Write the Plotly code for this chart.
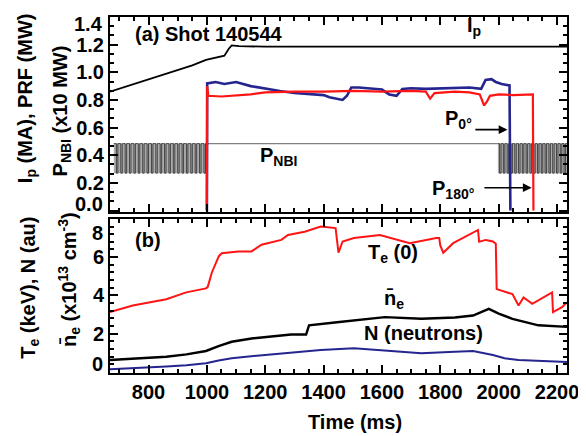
import plotly.graph_objects as go

# ---------------- data ----------------
# Panel (a)
T_IP = [668, 720, 776, 840, 905, 950, 997, 1020, 1040, 1060, 1075, 1085, 1110, 1200, 1400, 1600, 1800, 2000, 2234]
IP = [0.86, 0.895, 0.935, 0.975, 1.02, 1.05, 1.09, 1.10, 1.11, 1.12, 1.17, 1.195, 1.19, 1.185, 1.185, 1.185, 1.185, 1.185, 1.185]

T_P0 = [668, 999, 1000, 1001, 1030, 1060, 1100, 1150, 1200, 1250, 1300, 1350, 1400, 1420, 1465, 1480, 1495, 1520, 1560, 1600,
        1625, 1650, 1670, 1700, 1750, 1800, 1850, 1900, 1940, 1955, 1975, 1990, 2010, 2037, 2040, 2234]
P0 = [None, 0.0, 0.0, 0.92, 0.93, 0.915, 0.93, 0.90, 0.88, 0.865, 0.85, 0.845, 0.835, 0.82, 0.80, 0.83, 0.89, 0.89, 0.88, 0.875,
      0.84, 0.83, 0.88, 0.885, 0.88, 0.885, 0.89, 0.89, 0.88, 0.945, 0.95, 0.93, 0.915, 0.905, 0.0, None]

T_P180 = [668, 999, 1000, 1001, 1005, 1050, 1100, 1150, 1200, 1250, 1300, 1400, 1500, 1600, 1700, 1750, 1765, 1780, 1850,
          1900, 1935, 1950, 1960, 1970, 2000, 2050, 2100, 2117, 2119, 2234]
P180 = [None, 0.0, 0.0, 0.90, 0.83, 0.825, 0.83, 0.84, 0.855, 0.86, 0.86, 0.86, 0.865, 0.86, 0.865, 0.86, 0.81, 0.85, 0.86,
        0.855, 0.84, 0.76, 0.79, 0.83, 0.84, 0.835, 0.84, 0.84, 0.0, None]

# NBI modulation: times where the beam switches off (low) and back on (high)
NBI_OFF_L = [690, 705, 720, 735, 750, 765, 780, 795, 810, 825, 840, 855, 870, 885, 900, 915, 930, 945, 960, 975, 990]
NBI_OFF_R = [2003, 2016, 2029, 2042, 2055, 2068, 2081, 2094, 2107, 2120, 2133, 2146, 2159, 2172, 2185, 2198, 2211, 2224]
NBI_OFF_LEN = 5
NBI_HIGH = 0.484
NBI_LOW = 0.27
NBI_MOD_L = [681, 1000]
NBI_CW = [1000, 1997]
NBI_MOD_R = [1997, 2234]

# Panel (b)
T_TE = [668, 746, 861, 929, 997, 1003, 1017, 1041, 1051, 1108, 1153, 1187, 1255, 1278, 1335, 1390, 1441, 1446, 1451, 1465,
        1504, 1593, 1695, 1786, 1796, 1800, 1810, 1844, 1912, 1929, 1933, 1956, 1980, 1990, 1993, 2047, 2068, 2085, 2115,
        2183, 2186, 2217, 2234]
TE = [3.13, 3.47, 3.8, 4.16, 4.37, 4.45, 5.2, 6.05, 6.2, 6.3, 6.3, 6.65, 6.9, 7.16, 7.33, 7.6, 7.52, 6.8, 6.23, 6.82,
      7.0, 7.16, 6.73, 7.0, 7.0, 6.6, 6.23, 6.73, 7.25, 7.42, 6.8, 6.9, 6.82, 6.7, 4.33, 4.07, 3.47, 3.9, 3.56,
      4.16, 3.13, 3.39, 3.64]

T_NE = [668, 760, 861, 930, 997, 1040, 1085, 1153, 1230, 1289, 1340, 1346, 1350, 1446, 1530, 1610, 1735, 1850, 1912, 1966,
        2000, 2047, 2136, 2234]
NE = [0.63, 0.7, 0.8, 0.92, 1.1, 1.35, 1.58, 1.75, 1.85, 1.96, 1.96, 2.2, 2.44, 2.6, 2.75, 2.87, 2.78, 2.85, 2.95, 3.3,
      3.05, 2.78, 2.44, 2.36]

T_N = [668, 760, 861, 930, 997, 1040, 1085, 1190, 1289, 1390, 1504, 1617, 1735, 1830, 1912, 1980, 2020, 2068, 2183, 2234]
NN = [0.15, 0.2, 0.29, 0.36, 0.46, 0.6, 0.72, 0.88, 1.03, 1.15, 1.24, 1.1, 0.98, 1.05, 1.1, 0.89, 0.72, 0.63, 0.55, 0.52]

X_RANGE = [668, 2234]
X_TICKS = [800, 1000, 1200, 1400, 1600, 1800, 2000, 2200]
YA_TICKS = [0.0, 0.2, 0.4, 0.6, 0.8, 1.0, 1.2, 1.4]
YA_LABELS = ["0.0", "0.2", "0.4", "0.6", "0.8", "1.0", "1.2", "1.4"]
YB_TICKS = [0, 2, 4, 6, 8]
YB_LABELS = ["0", "2", "4", "6", "8"]

# ---------------- build ----------------
FONT = "Liberation Sans, Arial, sans-serif"
RED = "#ff1414"
BLUE = "#25258f"


def square_wave(offs, start, end):
    xs, ys = [start], [NBI_HIGH]
    for t in offs:
        xs += [t, t, t + NBI_OFF_LEN, t + NBI_OFF_LEN]
        ys += [NBI_HIGH, NBI_LOW, NBI_LOW, NBI_HIGH]
    xs.append(end)
    ys.append(NBI_HIGH)
    return xs, ys


fig = go.Figure()

for seg, offs in ((NBI_MOD_L, NBI_OFF_L), (NBI_MOD_R, NBI_OFF_R)):
    fig.add_trace(go.Scatter(x=seg, y=[NBI_LOW, NBI_LOW], mode="lines", line=dict(width=0, color="#aaa"),
                             xaxis="x", yaxis="y", hoverinfo="skip", showlegend=False))
    fig.add_trace(go.Scatter(x=seg, y=[NBI_HIGH, NBI_HIGH], mode="lines", line=dict(width=0, color="#aaa"),
                             fill="tonexty", fillcolor="#ababab",
                             xaxis="x", yaxis="y", hoverinfo="skip", showlegend=False))
    sx, sy = square_wave(offs, seg[0], seg[1])
    fig.add_trace(go.Scatter(x=sx, y=sy, mode="lines", line=dict(width=0.9, color="#3a3a3a"),
                             xaxis="x", yaxis="y", showlegend=False))

fig.add_trace(go.Scatter(x=NBI_CW, y=[NBI_HIGH, NBI_HIGH], mode="lines", line=dict(width=1.2, color="#808080"),
                         xaxis="x", yaxis="y", showlegend=False))

fig.add_trace(go.Scatter(x=T_IP, y=IP, mode="lines", line=dict(width=1.8, color="black"),
                         xaxis="x", yaxis="y", showlegend=False))
fig.add_trace(go.Scatter(x=T_P0, y=P0, mode="lines", line=dict(width=2.6, color=BLUE),
                         xaxis="x", yaxis="y", showlegend=False))
fig.add_trace(go.Scatter(x=T_P180, y=P180, mode="lines", line=dict(width=2.2, color=RED),
                         xaxis="x", yaxis="y", showlegend=False))

fig.add_trace(go.Scatter(x=T_TE, y=TE, mode="lines", line=dict(width=2, color=RED),
                         xaxis="x2", yaxis="y2", showlegend=False))
fig.add_trace(go.Scatter(x=T_NE, y=NE, mode="lines", line=dict(width=2.4, color="black"),
                         xaxis="x2", yaxis="y2", showlegend=False))
fig.add_trace(go.Scatter(x=T_N, y=NN, mode="lines", line=dict(width=2, color=BLUE),
                         xaxis="x2", yaxis="y2", showlegend=False))

axis_common = dict(showline=True, linewidth=2, linecolor="black", mirror="allticks", ticks="inside",
                   tickwidth=2, ticklen=8, tickcolor="black", showgrid=False, zeroline=False,
                   tickfont=dict(family=FONT, size=20, color="black", weight="bold"))
minor_common = dict(ticks="inside", ticklen=4, tickwidth=1.5, tickcolor="black", tick0=0)

# page has an 8 px body margin: the figure is sized so the plot area lands at x 110-572, y 15-373
fig.update_layout(
    width=578, height=428,
    margin=dict(l=102, r=14, t=7, b=63),
    paper_bgcolor="white", plot_bgcolor="white",
    font=dict(family=FONT, size=20, color="black", weight="bold"),
    xaxis=dict(domain=[0, 1], anchor="y", range=X_RANGE, tickvals=X_TICKS, showticklabels=False,
               minor=dict(dtick=50, **minor_common), **axis_common),
    yaxis=dict(domain=[0.4525, 1], anchor="x", range=[-0.01, 1.4], tickvals=YA_TICKS,
               ticktext=[""] + YA_LABELS[1:-1] + [""],
               minor=dict(dtick=0.2 / 3, **minor_common), **axis_common),
    xaxis2=dict(domain=[0, 1], anchor="y2", range=X_RANGE, tickvals=X_TICKS,
                minor=dict(dtick=50, **minor_common), **axis_common),
    yaxis2=dict(domain=[0, 0.433], anchor="x2", range=[-0.05, 8.0], tickvals=YB_TICKS,
                ticktext=[""] + YB_LABELS[1:-1] + [""],
                minor=dict(dtick=0.4, **minor_common), **axis_common),
)

ann = []


def txt(text, x, y, xref, yref, xanchor="left", yanchor="middle", angle=0, size=20):
    ann.append(dict(text=text, x=x, y=y, xref=xref, yref=yref, xanchor=xanchor, yanchor=yanchor,
                    showarrow=False, textangle=angle,
                    font=dict(family=FONT, size=size, color="black", weight="bold")))


# end tick labels, nudged inward as in the original
txt(YA_LABELS[-1], -0.011, 0.980, "paper", "paper", "right")
txt(YA_LABELS[0], -0.011, 0.4385, "paper", "paper", "right", "bottom")
txt(YB_LABELS[-1], -0.011, 0.431, "paper", "paper", "right", "top")
txt(YB_LABELS[0], -0.011, 0.024, "paper", "paper", "right")

# axis titles
txt("I<sub>p</sub> (MA), PRF (MW)", -0.183, 0.773, "paper", "paper", "center", "middle", -90)
txt("P<sub>NBI</sub> (x10 MW)", -0.107, 0.735, "paper", "paper", "center", "middle", -90)
txt("T<sub>e</sub> (keV), N (au)", -0.176, 0.238, "paper", "paper", "center", "middle", -90)
txt("n\u0304<sub>e</sub> (x10<sup>13</sup> cm<sup>-3</sup>)", -0.089, 0.262, "paper", "paper", "center", "middle", -90)
txt("Time (ms)", 0.537, -0.137, "paper", "paper", "center", "middle")

# panel (a) labels
txt("(a) Shot 140544", 746, 1.28, "x", "y")
txt("I<sub>p</sub>", 1884, 1.33, "x", "y")
txt("P<sub>NBI</sub>", 1176, 0.39, "x", "y")
txt("P<sub>0°</sub>", 1810, 0.655, "x", "y")
txt("P<sub>180°</sub>", 1766, 0.155, "x", "y")

# arrows
ann.append(dict(x=2030, y=0.585, ax=1915, ay=0.585, xref="x", yref="y", axref="x", ayref="y", text="",
                showarrow=True, arrowhead=2, arrowsize=1.1, arrowwidth=1.6, arrowcolor="black"))
ann.append(dict(x=2113, y=0.165, ax=1946, ay=0.165, xref="x", yref="y", axref="x", ayref="y", text="",
                showarrow=True, arrowhead=2, arrowsize=1.1, arrowwidth=1.6, arrowcolor="black"))

# panel (b) labels
txt("(b)", 746, 6.9, "x2", "y2")
txt("T<sub>e</sub> (0)", 1637, 6.2, "x2", "y2", "center")
txt("n\u0304<sub>e</sub>", 1640, 3.8, "x2", "y2", "center")
txt("N (neutrons)", 1742, 2.06, "x2", "y2", "center")

fig.update_layout(annotations=ann)

fig.write_html("out.html")
